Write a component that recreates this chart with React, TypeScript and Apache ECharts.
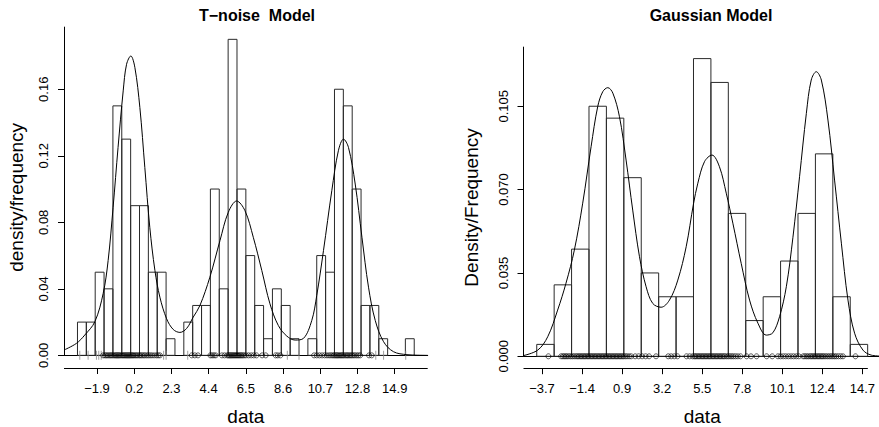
import React, { useEffect, useRef } from "react";
import * as echarts from "echarts";

const FONT = "Liberation Sans, Arial, Helvetica, sans-serif";

// ---- Left panel (T-noise model) ----
const leftBinStart = -3;
const leftBinWidth = 0.5;
const leftDensity = [
  0.02, 0.02, 0.05, 0.04, 0.15, 0.13, 0.09, 0.09, 0.05, 0.05, 0.01, 0, 0.02, 0.03, 0.03, 0.1, 0.04, 0.19, 0.1,
  0.06, 0.03, 0.01, 0.04, 0.03, 0.01, 0, 0.01, 0.06, 0.05, 0.16, 0.15, 0.1, 0.03, 0.03, 0.01, 0, 0, 0.01,
];
const leftCurveX = [
  -3.76, -3.06, -2.59, -2.02, -1.55, -1.27, -0.99, -0.71, -0.42, -0.23, 0.01, 0.24, 0.52, 0.8, 1.08, 1.37, 1.65,
  2.03, 2.4, 2.78, 3.16, 3.53, 3.91, 4.47, 5.04, 5.51, 5.98, 6.45, 6.92, 7.4, 7.86, 8.33, 8.81, 9.28, 9.75, 10.22,
  10.5, 10.88, 11.35, 11.72, 12.01, 12.29, 12.67, 13.05, 13.42, 13.8, 14.27, 14.83, 15.59, 16.2, 16.76,
];
const leftCurveY = [
  0.0032, 0.0072, 0.0122, 0.0202, 0.0372, 0.057, 0.089, 0.125, 0.159, 0.175, 0.18, 0.173, 0.149, 0.113, 0.077,
  0.051, 0.035, 0.022, 0.0156, 0.0138, 0.0162, 0.023, 0.03, 0.047, 0.069, 0.086, 0.0928, 0.087, 0.071, 0.051,
  0.031, 0.018, 0.0116, 0.0092, 0.0102, 0.021, 0.036, 0.063, 0.099, 0.123, 0.13, 0.125, 0.103, 0.071, 0.041, 0.021,
  0.0082, 0.0022, 0.0004, 0.0001, 0,
];
const leftPoints = [
  -1.55, -1.45, -1.38, -1.3, -1.22, -1.15, -1.08, -1.0, -0.93, -0.86, -0.8, -0.74, -0.68, -0.62, -0.55, -0.48,
  -0.42, -0.36, -0.3, -0.24, -0.18, -0.12, -0.06, 0.0, 0.06, 0.12, 0.18, 0.25, 0.32, 0.4, 0.48, 0.55, 0.63, 0.72,
  0.8, 0.9, 1.0, 1.1, 1.2, 1.32, 1.45, 1.55, 1.65, 3.45, 3.62, 3.8, 4.5, 4.6, 4.7, 4.8, 5.15, 5.3, 5.45, 5.52, 5.58,
  5.64, 5.7, 5.76, 5.82, 5.88, 5.94, 6.0, 6.06, 6.12, 6.18, 6.25, 6.32, 6.4, 6.5, 6.65, 6.8, 6.95, 7.1, 7.42, 7.62,
  8.18, 8.3, 8.45, 10.35, 10.5, 10.65, 10.8, 10.95, 11.08, 11.2, 11.3, 11.4, 11.48, 11.55, 11.62, 11.68, 11.75,
  11.82, 11.88, 11.95, 12.02, 12.1, 12.18, 12.25, 12.32, 12.4, 12.48, 12.56, 12.65, 12.75, 12.85, 12.95, 13.45,
  13.6,
];
const leftRug = [-2.87, -2.4, -1.93, -1.8, -1.66, 1.86, 2.0, 3.22, 8.84, 9.5, 13.83, 14.27, 15.52];
const leftXTicks = [-1.9, 0.2, 2.3, 4.4, 6.5, 8.6, 10.7, 12.8, 14.9];
const leftYTicks = [0, 0.04, 0.08, 0.12, 0.16];

// ---- Right panel (Gaussian model) ----
const rightBinStart = -4;
const rightBinWidth = 1;
const rightDensity = [
  0.005, 0.03, 0.045, 0.105, 0.1, 0.075, 0.035, 0.025, 0.025, 0.125, 0.115, 0.06, 0.015, 0.025, 0.04, 0.06, 0.085,
  0.025, 0.005,
];
const rightCurveX = [
  -4.76, -3.94, -3.37, -2.8, -2.32, -1.84, -1.36, -0.88, -0.5, -0.21, 0.08, 0.37, 0.75, 1.13, 1.51, 1.9, 2.28, 2.66,
  3.14, 3.62, 4.1, 4.58, 5.0, 5.25, 5.63, 6.06, 6.49, 6.88, 7.26, 7.74, 8.22, 8.7, 9.18, 9.56, 9.94, 10.33, 10.71,
  11.09, 11.48, 11.76, 12.05, 12.34, 12.72, 13.1, 13.49, 13.87, 14.25, 14.73, 15.2, 15.76,
];
const rightCurveY = [
  0.0003, 0.0026, 0.0082, 0.0194, 0.0307, 0.0446, 0.0643, 0.088, 0.1048, 0.1111, 0.1128, 0.1105, 0.1006, 0.0824,
  0.0614, 0.0418, 0.0292, 0.0222, 0.0206, 0.0236, 0.032, 0.046, 0.064, 0.0727, 0.0817, 0.0845, 0.0796, 0.0685,
  0.0559, 0.039, 0.0236, 0.0139, 0.0089, 0.0099, 0.0166, 0.0292, 0.05, 0.0754, 0.102, 0.116, 0.1195, 0.116, 0.0992,
  0.074, 0.0475, 0.0236, 0.0097, 0.0026, 0.0005, 0.0001,
];
const rightPoints = [
  -3.33, -2.6, -2.5, -2.42, -2.33, -2.25, -2.15, -2.05, -1.95, -1.85, -1.75, -1.66, -1.58, -1.5, -1.42, -1.34,
  -1.26, -1.18, -1.1, -1.02, -0.94, -0.86, -0.78, -0.7, -0.62, -0.54, -0.46, -0.38, -0.3, -0.22, -0.14, -0.06, 0.02,
  0.1, 0.18, 0.26, 0.34, 0.42, 0.5, 0.58, 0.66, 0.74, 0.82, 0.9, 0.98, 1.08, 1.18, 1.3, 1.42, 1.65, 1.85, 2.05, 2.25,
  2.45, 2.85, 3.55, 3.72, 3.9, 4.08, 4.6, 4.78, 4.95, 5.05, 5.12, 5.2, 5.28, 5.36, 5.44, 5.52, 5.6, 5.68, 5.76, 5.84,
  5.92, 6.0, 6.08, 6.16, 6.24, 6.32, 6.4, 6.48, 6.56, 6.64, 6.72, 6.8, 6.9, 7.0, 7.1, 7.2, 7.3, 7.42, 7.55, 7.7,
  8.05, 8.3, 8.62, 9.2, 9.52, 9.85, 10.0, 10.15, 10.3, 10.45, 10.6, 10.75, 10.9, 11.05, 11.3, 11.4, 11.5, 11.6, 11.7,
  11.78, 11.86, 11.94, 12.02, 12.1, 12.18, 12.26, 12.34, 12.42, 12.5, 12.6, 12.7, 12.8, 12.9, 13.0, 13.1, 13.2,
  13.32, 13.45, 13.58, 14.3,
];
const rightXTicks = [-3.7, -1.4, 0.9, 3.2, 5.5, 7.8, 10.1, 12.4, 14.7];
const rightYTicks = [0, 0.035, 0.07, 0.105];

// axis ranges (plot region of each panel)
const leftXRange = [-3.76, 16.76];
const leftYRange = [-0.0076, 0.1976];
const rightXRange = [-4.76, 15.76];
const rightYRange = [-0.005, 0.13];
const rightAxisLineEnd = 15.01;

const bins = (start: number, w: number, dens: number[]) =>
  dens.map((d, i) => [start + i * w, start + (i + 1) * w, d]).filter((b) => b[2] > 0);

const fmtNum = (d: number) => (v: number) => v.toFixed(d).replace("-", "\u2212");

const barSeries = (data: number[][], xi: number, yi: number) => ({
  type: "custom",
  xAxisIndex: xi,
  yAxisIndex: yi,
  clip: false,
  silent: true,
  encode: { x: [0, 1], y: 2 },
  data,
  renderItem: (_p: any, api: any) => {
    const a = api.coord([api.value(0), api.value(2)]);
    const b = api.coord([api.value(1), 0]);
    return {
      type: "rect",
      shape: { x: a[0], y: a[1], width: b[0] - a[0], height: b[1] - a[1] },
      style: { fill: "none", stroke: "#2a2a2a", lineWidth: 1 },
    };
  },
});

const curveSeries = (xs: number[], ys: number[], xi: number, yi: number, lines: any[]) => ({
  type: "line",
  xAxisIndex: xi,
  yAxisIndex: yi,
  data: xs.map((x, i) => [x, ys[i]]),
  smooth: 0.35,
  showSymbol: false,
  clip: false,
  silent: true,
  lineStyle: { color: "#000", width: 1 },
  markLine: {
    silent: true,
    symbol: ["none", "none"],
    label: { show: false },
    lineStyle: { color: "#000", width: 1, type: "solid" },
    emphasis: { disabled: true },
    data: lines,
  },
  z: 3,
});

const rugSeries = (xs: number[], xi: number, yi: number) => ({
  type: "scatter",
  xAxisIndex: xi,
  yAxisIndex: yi,
  clip: false,
  silent: true,
  symbol: "rect",
  symbolSize: [1, 9],
  itemStyle: { color: "#8a8a8a" },
  data: xs.map((x) => [x, 0]),
  z: 2,
});

const pointSeries = (xs: number[], xi: number, yi: number) => ({
  type: "scatter",
  xAxisIndex: xi,
  yAxisIndex: yi,
  clip: false,
  silent: true,
  symbol: "circle",
  symbolSize: 5,
  itemStyle: { color: "transparent", borderColor: "#000", borderWidth: 0.8 },
  data: xs.map((x) => [x, 0]),
  z: 4,
});

const tickText = { fontSize: 13, color: "#000", fontFamily: FONT };
const nameText = { fontSize: 19, color: "#000", fontFamily: FONT };

const baseAxis = (gi: number, range: number[]) => ({
  gridIndex: gi,
  type: "value",
  min: range[0],
  max: range[1],
  position: "top",
  axisLine: { show: true, onZero: true, lineStyle: { color: "#000", width: 1 } },
  axisTick: { show: false },
  axisLabel: { show: false },
  splitLine: { show: false },
});

const labelAxis = (gi: number, range: number[], ticks: number[]) => ({
  gridIndex: gi,
  type: "value",
  min: range[0],
  max: range[1],
  position: "bottom",
  axisLine: { show: false, onZero: false },
  axisTick: { show: true, length: 6, customValues: ticks, lineStyle: { color: "#000", width: 1 } },
  axisLabel: { customValues: ticks, formatter: fmtNum(1), margin: 14, ...tickText },
  splitLine: { show: false },
  name: "data",
  nameLocation: "middle",
  nameGap: 39,
  nameTextStyle: nameText,
});

const valueAxis = (gi: number, range: number[], ticks: number[], digits: number, name: string, gap: number) => ({
  gridIndex: gi,
  type: "value",
  min: range[0],
  max: range[1],
  axisLine: { show: false, onZero: false },
  axisTick: { show: true, length: 6, customValues: ticks, lineStyle: { color: "#000", width: 1 } },
  axisLabel: { customValues: ticks, formatter: fmtNum(digits), rotate: 90, margin: 14, ...tickText },
  splitLine: { show: false },
  name,
  nameLocation: "middle",
  nameGap: gap,
  nameTextStyle: nameText,
});

export default function App() {
  const ref = useRef<HTMLDivElement>(null);
  useEffect(() => {
    if (!ref.current) return;
    const chart = echarts.init(ref.current, undefined, { renderer: "svg" });
    const leftLines = [
      [{ coord: [leftXRange[0], 0] }, { coord: [leftXRange[0], leftYRange[1]] }],
      [{ coord: [leftXRange[0], leftYRange[0]] }, { coord: [leftXRange[1], leftYRange[0]] }],
    ];
    const rightLines = [
      [{ coord: [rightXRange[0], 0] }, { coord: [rightXRange[0], rightYRange[1]] }],
      [{ coord: [rightXRange[0], rightYRange[0]] }, { coord: [rightAxisLineEnd, rightYRange[0]] }],
    ];
    const option: any = {
      animation: false,
      backgroundColor: "#fff",
      textStyle: { fontFamily: FONT },
      title: [
        {
          text: "T\u2212noise  Model",
          left: 257,
          top: 7,
          padding: 0,
          textAlign: "center",
          textStyle: { fontSize: 16, fontWeight: "bold", color: "#000", fontFamily: FONT },
        },
        {
          text: "Gaussian Model",
          left: 711,
          top: 7,
          padding: 0,
          textAlign: "center",
          textStyle: { fontSize: 16, fontWeight: "bold", color: "#000", fontFamily: FONT },
        },
      ],
      grid: [
        { left: 64, top: 26.7, width: 363.7, height: 341.3, outerBoundsMode: "none", containLabel: false },
        { left: 523.5, top: 46.7, width: 357.4, height: 321.5, outerBoundsMode: "none", containLabel: false },
      ],
      xAxis: [
        baseAxis(0, leftXRange),
        labelAxis(0, leftXRange, leftXTicks),
        baseAxis(1, rightXRange),
        labelAxis(1, rightXRange, rightXTicks),
      ],
      yAxis: [
        valueAxis(0, leftYRange, leftYTicks, 2, "density/frequency", 38),
        valueAxis(1, rightYRange, rightYTicks, 3, "Density/Frequency", 43),
      ],
      series: [
        barSeries(bins(leftBinStart, leftBinWidth, leftDensity), 0, 0),
        curveSeries(leftCurveX, leftCurveY, 0, 0, leftLines),
        rugSeries(leftRug, 0, 0),
        pointSeries(leftPoints, 0, 0),
        barSeries(bins(rightBinStart, rightBinWidth, rightDensity), 2, 1),
        curveSeries(rightCurveX, rightCurveY, 2, 1, rightLines),
        pointSeries(rightPoints, 2, 1),
      ],
    };
    chart.setOption(option);
    return () => chart.dispose();
  }, []);
  return (
    <div
      ref={ref}
      style={{ position: "fixed", left: 0, top: 0, width: 879, height: 427, background: "#fff" }}
    />
  );
}
